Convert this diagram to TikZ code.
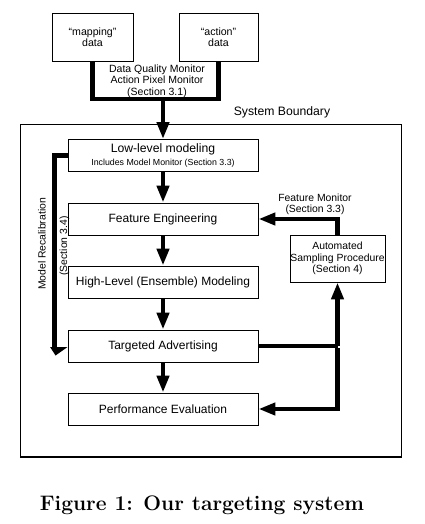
\documentclass[tikz,border=0pt]{standalone}
\usepackage{fontspec}
\newfontfamily\arial{Liberation Sans}
\usetikzlibrary{arrows.meta}
\begin{document}
\begin{tikzpicture}[x=1bp,y=-1bp,
  box/.style={draw,line width=0.9bp,inner sep=0pt,align=center,font=\arial},
  mainbox/.style={box,minimum width=190bp,minimum height=32bp,font=\arial\fontsize{12bp}{14bp}\selectfont},
  lbl/.style={inner sep=0pt,align=center,font=\arial\fontsize{10.4bp}{11.6bp}\selectfont},
  thickline/.style={line width=4.5bp},
  flow/.style={line width=4.5bp,-{Triangle[length=17bp,width=12bp]}}]
\useasboundingbox (0,0) rectangle (424,524);
% data boxes
\node[box,minimum width=81bp,minimum height=48bp,font=\arial\fontsize{10.6bp}{11bp}\selectfont] (map) at (92.5,37) {“mapping”\\data};
\node[box,minimum width=79bp,minimum height=48bp,font=\arial\fontsize{10.6bp}{11bp}\selectfont] (act) at (218.5,37) {“action”\\data};
\node[lbl,font=\arial\fontsize{10.5bp}{11.6bp}\selectfont] (dq) at (157,81) {Data Quality Monitor\\Action Pixel Monitor\\(Section 3.1)};
% system boundary
\draw[line width=1.2bp] (20.5,124.5) rectangle (401.5,457);
\node[lbl,font=\arial\fontsize{12.2bp}{14bp}\selectfont] (sb) at (282,112) {System Boundary};
% main chain
\node[mainbox] (LL) at (163,155.5) {\fontsize{12.2bp}{14bp}\selectfont Low-level modeling\\[-1bp]\fontsize{8.8bp}{10bp}\selectfont Includes Model Monitor (Section 3.3)};
\node[mainbox] (FE) at (163,219) {Feature Engineering};
\node[mainbox] (HL) at (163,282) {High-Level (Ensemble) Modeling};
\node[mainbox] (TA) at (163,346) {Targeted Advertising};
\node[mainbox] (PE) at (163,409) {Performance Evaluation};
\node[box,minimum width=95bp,minimum height=47bp,font=\arial\fontsize{10.4bp}{11.6bp}\selectfont] (ASP) at (337.5,258.5) {Automated\\Sampling Procedure\\(Section 4)};
\node[lbl] (fm) at (315,204.5) {Feature Monitor\\(Section 3.3)};
% data merge
\coordinate (j) at (157,99);
\draw[thickline] (map.south) |- (j) -| (act.south);
\draw[flow] (LL.north |- j) -- (LL.north);
% chain arrows
\draw[flow] (LL) -- (FE);
\draw[flow] (FE) -- (HL);
\draw[flow] (HL) -- (TA);
\draw[flow] (TA) -- (PE);
% feedback loops
\draw[flow] (ASP.north) |- (FE.east);
\coordinate (k) at (TA.east -| ASP.south);
\draw[thickline] (TA.east) -- (k);
\draw[flow] (k) -- (ASP.south);
\draw[flow] ([yshift=-2.25bp]k) |- (PE.east);
% model recalibration
\draw[thickline] (LL.west) -| ([xshift=-13bp,yshift=-1bp]TA.west);
\fill ([xshift=-17.5bp,yshift=-1bp]TA.west) -- ([yshift=-1bp]TA.west) -- ([xshift=-12bp,yshift=-9.5bp]TA.west) -- cycle;
\node[lbl,rotate=90] (mr) at (42,244) {Model Recalibration};
\node[lbl,rotate=90] (s34) at (64.5,246) {(Section 3.4)};
% caption
\node[anchor=base,inner sep=0pt,font=\fontsize{21bp}{24bp}\bfseries] (cap) at (202,510) {Figure 1: Our targeting system};
\end{tikzpicture}
\end{document}
